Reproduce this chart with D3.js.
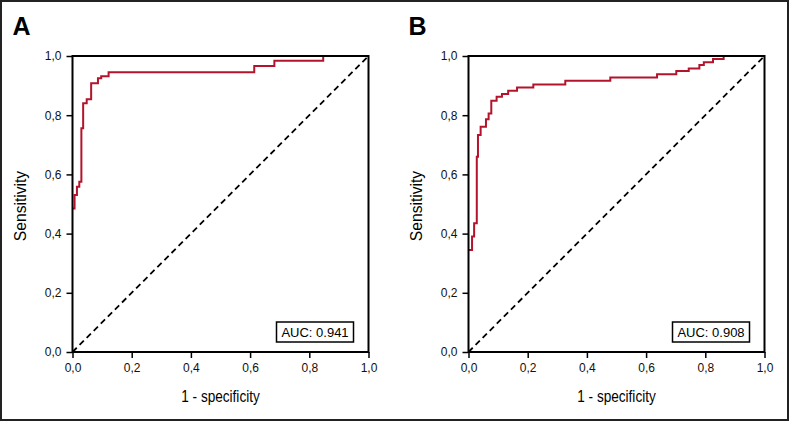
<!DOCTYPE html>
<html>
<head>
<meta charset="utf-8">
<script src="https://cdnjs.cloudflare.com/ajax/libs/d3/7.8.5/d3.min.js"></script>
<style>
  body { margin: 0; background: #fff; }
  svg { display: block; }
</style>
</head>
<body>
<script>
// ROC curve A: false positive rate / sensitivity at each step
var fprA = [0, 0.007, 0.015, 0.023, 0.030, 0.036, 0.048, 0.063, 0.086, 0.097, 0.122, 0.614, 0.682, 0.847, 1.0];
var tprA = [0.485, 0.53, 0.558, 0.575, 0.756, 0.840, 0.854, 0.908, 0.925, 0.932, 0.945, 0.966, 0.984, 1.0, 1.0];

// ROC curve B
var fprB = [0, 0.012, 0.019, 0.028, 0.032, 0.041, 0.059, 0.068, 0.077, 0.095, 0.113, 0.134, 0.164, 0.219, 0.327, 0.479, 0.637, 0.702, 0.744, 0.780, 0.795, 0.826, 0.862, 1.0];
var tprB = [0.345, 0.39, 0.435, 0.66, 0.733, 0.761, 0.786, 0.806, 0.849, 0.862, 0.872, 0.883, 0.894, 0.904, 0.916, 0.927, 0.938, 0.949, 0.958, 0.970, 0.979, 0.99, 1.0, 1.0];

var ticks = [0, 0.2, 0.4, 0.6, 0.8, 1.0];
var panelLabels = ["A", "B"];
var aucLabels = ["AUC: 0.941", "AUC: 0.908"];

var W = 789, H = 421;
var red = "#b3142c";
var sans = "Arial, 'Liberation Sans', sans-serif";

var svg = d3.select("body").append("svg")
    .attr("width", W)
    .attr("height", H);

// outer frame
svg.append("rect")
    .attr("x", 1).attr("y", 1)
    .attr("width", W - 2).attr("height", H - 2)
    .attr("fill", "white")
    .attr("stroke", "#222")
    .attr("stroke-width", 2);

var panels = [
  {left: 72.5, fpr: fprA, tpr: tprA},
  {left: 468.5, fpr: fprB, tpr: tprB}
];

var fmt = function(d) { return d3.format(".1f")(d).replace(".", ","); };

panels.forEach(function(p, i) {
  var x = d3.scaleLinear().domain([0, 1]).range([p.left, p.left + 296]);
  var y = d3.scaleLinear().domain([0, 1]).range([352, 56]);

  var g = svg.append("g");

  // panel letter
  g.append("text")
      .attr("x", p.left - 60)
      .attr("y", 35)
      .style("font-family", sans)
      .style("font-weight", "bold")
      .style("font-size", "25px")
      .text(panelLabels[i]);

  // diagonal reference line
  g.append("line")
      .attr("x1", x(0)).attr("y1", y(0))
      .attr("x2", x(1)).attr("y2", y(1))
      .attr("stroke", "black")
      .attr("stroke-width", 1.8)
      .attr("stroke-dasharray", "6,4");

  // ROC curve
  var pts = p.fpr.map(function(d, k) { return [d, p.tpr[k]]; });
  var line = d3.line()
      .x(function(d) { return x(d[0]); })
      .y(function(d) { return y(d[1]); })
      .curve(d3.curveStepAfter);
  g.append("path")
      .datum(pts)
      .attr("d", line)
      .attr("fill", "none")
      .attr("stroke", red)
      .attr("stroke-width", 2);

  // box around plot
  g.append("rect")
      .attr("x", x(0)).attr("y", y(1))
      .attr("width", x(1) - x(0)).attr("height", y(0) - y(1))
      .attr("fill", "none")
      .attr("stroke", "black")
      .attr("stroke-width", 2);

  // axes
  var xAxis = d3.axisBottom(x).tickValues(ticks).tickFormat(fmt).tickSize(6).tickPadding(5);
  var yAxis = d3.axisLeft(y).tickValues(ticks).tickFormat(fmt).tickSize(6).tickPadding(5);

  var gx = g.append("g").attr("transform", "translate(0,352)").call(xAxis);
  var gy = g.append("g").attr("transform", "translate(" + x(0) + ",0)").call(yAxis);
  [gx, gy].forEach(function(a) {
    a.select(".domain").remove();
    a.selectAll(".tick line").attr("stroke", "black").attr("stroke-width", 1.5);
    a.selectAll(".tick text")
        .style("font-family", sans)
        .style("font-size", "12px")
        .attr("fill", "#111");
  });

  // axis titles (condensed look)
  g.append("text")
      .attr("transform", "translate(" + x(0.5) + ",402) scale(0.8,1)")
      .attr("text-anchor", "middle")
      .style("font-family", sans)
      .style("font-size", "17px")
      .text("1 - specificity");

  g.append("text")
      .attr("transform", "translate(" + (p.left - 47) + "," + (y(0.5) + 2) + ") rotate(-90) scale(0.92,1)")
      .attr("text-anchor", "middle")
      .style("font-family", sans)
      .style("font-size", "17px")
      .text("Sensitivity");

  // AUC box
  var bx = x(1) - 92, by = 322;
  g.append("rect")
      .attr("x", bx).attr("y", by)
      .attr("width", 77).attr("height", 20)
      .attr("fill", "white")
      .attr("stroke", "black")
      .attr("stroke-width", 1.5);
  g.append("text")
      .attr("x", bx + 38.5)
      .attr("y", by + 15)
      .attr("text-anchor", "middle")
      .style("font-family", sans)
      .style("font-size", "13px")
      .text(aucLabels[i]);
});
</script>
</body>
</html>
